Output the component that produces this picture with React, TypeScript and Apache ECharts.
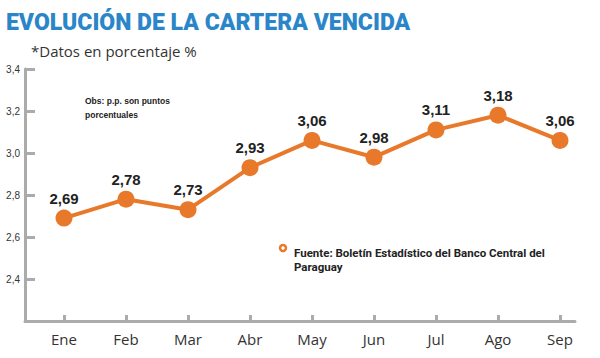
import React, { useEffect, useRef } from "react";
import * as echarts from "echarts";

const months = ["Ene", "Feb", "Mar", "Abr", "May", "Jun", "Jul", "Ago", "Sep"];
const values = [2.69, 2.78, 2.73, 2.93, 3.06, 2.98, 3.11, 3.18, 3.06];
const yMin = 2.2;
const yMax = 3.4;
const yStep = 0.2;

const ORANGE = "#E8792B";
const AXIS = "#ABABAB";

export default function App() {
  const ref = useRef<HTMLDivElement>(null);
  useEffect(() => {
    if (!ref.current) return;
    const chart = echarts.init(ref.current, null, { renderer: "svg" });
    chart.setOption({
      animation: false,
      backgroundColor: "#ffffff",
      grid: [
        { left: 25, right: 25, top: 69, bottom: 37, containLabel: false },
        { left: 33, right: 9, top: 69, bottom: 37, containLabel: false },
      ],
      title: [
        {
          text: "EVOLUCIÓN DE LA CARTERA VENCIDA",
          left: 1,
          top: 6,
          textStyle: { fontFamily: "Roboto", fontWeight: 900, fontSize: 23, color: "#2A86C8" },
        },
        {
          text: "*Datos en porcentaje %",
          left: 26,
          top: 38,
          textStyle: { fontFamily: "Open Sans", fontWeight: "normal", fontSize: 15, color: "#333333" },
        },
        {
          text: "Obs: p.p. son puntos\nporcentuales",
          left: 80,
          top: 89,
          textStyle: { fontFamily: "Liberation Sans", fontWeight: "bold", fontSize: 8.5, lineHeight: 14, color: "#222222" },
        },
        {
          text: "Fuente: Boletín Estadístico del Banco Central del\nParaguay",
          left: 289,
          top: 241,
          textStyle: { fontFamily: "Roboto", fontWeight: "bold", fontSize: 11.5, lineHeight: 14, color: "#222222" },
        },
      ],
      graphic: [
        {
          type: "circle",
          shape: { cx: 283, cy: 248, r: 3 },
          style: { fill: "#ffffff", stroke: ORANGE, lineWidth: 2.5 },
        },
      ],
      xAxis: [
        {
          type: "value",
          gridIndex: 0,
          min: 0,
          max: 1,
          splitLine: { show: false },
          axisLine: { show: true, onZero: false, lineStyle: { color: AXIS, width: 3 } },
          axisTick: { show: false },
          axisLabel: { show: false },
        },
        {
          type: "category",
          gridIndex: 1,
          data: months,
          boundaryGap: true,
          axisLine: { show: true, onZero: false, lineStyle: { color: "rgba(0,0,0,0)" } },
          axisTick: {
            show: true,
            inside: true,
            alignWithLabel: true,
            length: 6,
            lineStyle: { color: AXIS, width: 3 },
          },
          axisLabel: {
            fontFamily: "Open Sans",
            fontSize: 15,
            color: "#333333",
            margin: 10,
          },
        },
      ],
      yAxis: [
        {
          type: "value",
          gridIndex: 0,
          min: yMin,
          max: yMax,
          interval: yStep,
          show: false,
          splitLine: { show: false },
        },
        {
          type: "value",
          gridIndex: 1,
          min: yMin,
          max: yMax,
          interval: yStep,
          offset: 8,
          splitLine: { show: false },
          axisLine: { show: true, onZero: false, lineStyle: { color: AXIS, width: 3 } },
          axisTick: {
            show: true,
            inside: true,
            length: 10,
            lineStyle: { color: AXIS, width: 3 },
          },
          axisLabel: {
            formatter: (v: number) => (v < yMin + 0.01 ? "" : v.toFixed(1).replace(".", ",")),
            fontFamily: "Liberation Sans",
            fontSize: 10,
            color: "#333333",
            margin: 5,
          },
        },
      ],
      series: [
        {
          type: "line",
          xAxisIndex: 1,
          yAxisIndex: 1,
          data: values,
          lineStyle: { color: ORANGE, width: 4 },
          itemStyle: { color: ORANGE },
          symbol: "circle",
          symbolSize: 17,
          label: {
            show: true,
            position: "top",
            distance: 4,
            formatter: (p: any) => Number(p.value).toFixed(2).replace(".", ","),
            fontFamily: "Liberation Sans",
            fontWeight: "bold",
            fontSize: 15,
            color: "#222222",
          },
        },
      ],
    });
    return () => chart.dispose();
  }, []);
  return <div ref={ref} style={{ width: 600, height: 358, position: "absolute", left: 0, top: 0 }} />;
}
